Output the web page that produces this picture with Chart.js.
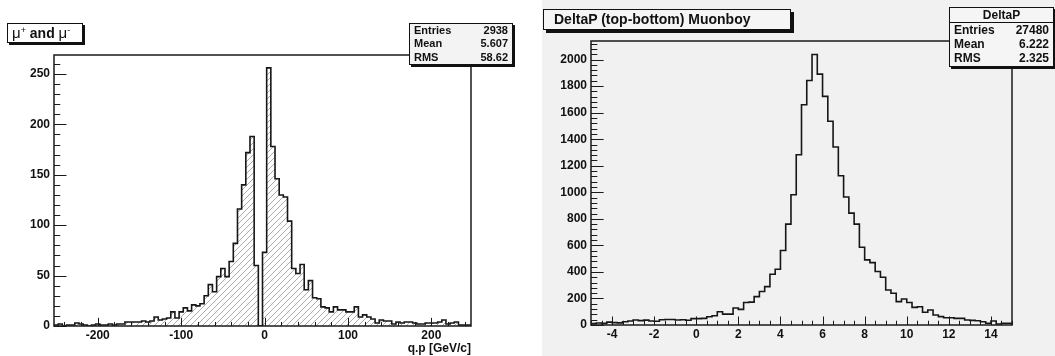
<!DOCTYPE html>
<html>
<head>
<meta charset="utf-8">
<script src="https://cdn.jsdelivr.net/npm/chart.js@4.4.1/dist/chart.umd.min.js"></script>
<style>
  html,body{margin:0;padding:0;background:#fff;}
  #wrap{position:relative;width:1055px;height:356px;overflow:hidden;font-family:'Liberation Sans',Arial,Helvetica,sans-serif;color:#111;}
  #rightBg{position:absolute;left:542px;top:0;width:513px;height:356px;background:#f1f1f1;}
  canvas{position:absolute;top:0;}
  #leftChart{left:0;}
  #rightChart{left:530px;}
  .title{position:absolute;border:1px solid #111;box-shadow:2px 2px 0 #111;font-weight:bold;white-space:nowrap;box-sizing:border-box;}
  .title .mu{font-weight:normal;font-size:15px;}
  .title sup{font-size:9px;font-weight:normal;vertical-align:5px;line-height:0;}
  .stats{position:absolute;border:1px solid #111;box-shadow:2px 2px 0 #111;font-weight:bold;box-sizing:border-box;}
  .stats .row{display:flex;justify-content:space-between;padding:0 4px;}
  .stats .head{text-align:center;border-bottom:1px solid #111;}
</style>
</head>
<body>
<div id="wrap">
  <div id="rightBg"></div>
  <canvas id="leftChart" width="530" height="356"></canvas>
  <canvas id="rightChart" width="525" height="356"></canvas>

  <div class="title" style="left:7px;top:23px;width:76px;height:20px;background:#fff;font-size:14px;line-height:18px;padding-left:4px;">
    <span class="mu">μ</span><sup>+</sup> and <span class="mu">μ</span><sup>-</sup>
  </div>
  <div class="stats" id="leftStats" style="left:409px;top:23px;width:104px;height:42px;background:#f3f3f3;font-size:11px;line-height:13.4px;"></div>

  <div class="title" style="left:543px;top:9px;width:248px;height:21px;background:#f5f5f5;font-size:14px;line-height:19px;padding-left:10px;box-shadow:3px 3px 0 #111;">DeltaP (top-bottom) Muonboy</div>
  <div class="stats" id="rightStats" style="left:949px;top:7px;width:105px;height:60px;background:#f5f5f5;font-size:12px;line-height:14px;"></div>
</div>

<script>
// ===== data =====
// left: q.p, 100 bins of 5 GeV/c from -252.5
const leftXMin = -252.5;
const leftBinW = 5;
const leftCounts = [
  0, 1, 2, 0, 1, 1, 3, 2, 1, 0,
  1, 2, 1, 1, 2, 1, 2, 2, 4, 4,
  4, 4, 5, 4, 5, 9, 6, 7, 8, 14,
  8, 14, 18, 15, 21, 20, 22, 30, 41, 34,
  49, 57, 49, 64, 82, 116, 140, 172, 188, 60,
  0, 73, 256, 178, 146, 130, 128, 104, 57, 52,
  61, 36, 45, 28, 27, 19, 18, 14, 19, 16,
  16, 14, 14, 19, 9, 11, 9, 7, 3, 6,
  5, 5, 2, 4, 3, 4, 4, 3, 2, 2,
  3, 3, 3, 4, 6, 2, 3, 4, 1, 1
];
const leftXTicks = [-200, -100, 0, 100, 200];
const leftYTicks = [0, 50, 100, 150, 200, 250];
const leftStats = [['Entries', '2938'], ['Mean', '5.607'], ['RMS', '58.62']];

// right: DeltaP, 80 bins of 0.25 from -5
const rightXMin = -5;
const rightBinW = 0.25;
const rightCounts = [
  12, 10, 15, 12, 22, 18, 16, 25, 30, 38,
  33, 37, 30, 28, 40, 42, 42, 38, 40, 36,
  48, 48, 50, 62, 70, 100, 82, 82, 128, 118,
  170, 172, 214, 252, 289, 382, 420, 561, 760, 981,
  1283, 1660, 1842, 2038, 1890, 1723, 1535, 1341, 1125, 964,
  843, 760, 586, 491, 470, 403, 360, 264, 239, 176,
  196, 169, 133, 138, 96, 113, 75, 63, 55, 55,
  50, 50, 38, 35, 32, 25, 13, 30, 8, 13
];
const rightXTicks = [-4, -2, 0, 2, 4, 6, 8, 10, 12, 14];
const rightYTicks = [0, 200, 400, 600, 800, 1000, 1200, 1400, 1600, 1800, 2000];
const rightStatsTitle = 'DeltaP';
const rightStats = [['Entries', '27480'], ['Mean', '6.222'], ['RMS', '2.325']];

Chart.defaults.font.family = "'Liberation Sans', Arial, Helvetica, sans-serif";

// ===== helpers =====
function histPoints(counts, xMin, binW){
  const xMax = xMin + counts.length * binW;
  const pts = [{x: xMin, y: 0}];
  counts.forEach((c, i) => pts.push({x: xMin + i * binW, y: c}));
  pts.push({x: xMax, y: counts[counts.length - 1]});
  pts.push({x: xMax, y: 0});
  return pts;
}

function hatch(){
  const c = document.createElement('canvas'); c.width = 6; c.height = 6;
  const g = c.getContext('2d');
  g.strokeStyle = '#a2a2a2'; g.lineWidth = 0.9;
  g.beginPath();
  g.moveTo(0, 6); g.lineTo(6, 0);
  g.moveTo(-1, 1); g.lineTo(1, -1);
  g.moveTo(5, 7); g.lineTo(7, 5);
  g.stroke();
  return g.createPattern(c, 'repeat');
}

function renderStats(el, rows, head){
  el.innerHTML = (head ? `<div class="head">${head}</div>` : '') +
    rows.map(r => `<div class="row"><span>${r[0]}</span><span>${r[1]}</span></div>`).join('');
}

// ROOT style: frame + inward ticks, minors at half length
const rootFrame = {
  id: 'rootFrame',
  afterDraw(chart, args, o){
    const {ctx, chartArea: a, scales: {x, y}} = chart;
    const yLen = (a.right - a.left) * 0.03, xLen = (a.bottom - a.top) * 0.03;
    const xMaj = x.ticks.map(t => t.value), yMaj = y.ticks.map(t => t.value);
    ctx.save();
    ctx.strokeStyle = '#1a1a1a';
    ctx.lineWidth = 1;
    ctx.beginPath();
    for(let k = 0; k * o.yMinor <= y.max; k++){
      const v = k * o.yMinor;
      const p = Math.round(y.getPixelForValue(v)) + 0.5;
      const len = yMaj.includes(v) ? yLen : yLen / 2;
      ctx.moveTo(a.left, p); ctx.lineTo(a.left + len, p);
    }
    for(let v = Math.ceil(x.min / o.xMinor) * o.xMinor; v <= x.max + 1e-9; v += o.xMinor){
      const p = Math.round(x.getPixelForValue(v)) + 0.5;
      const len = xMaj.some(m => Math.abs(m - v) < 1e-6) ? xLen : xLen / 2;
      ctx.moveTo(p, a.bottom); ctx.lineTo(p, a.bottom - len);
    }
    ctx.stroke();
    ctx.lineWidth = 1.5;
    ctx.strokeRect(a.left, a.top, a.right - a.left, a.bottom - a.top);
    ctx.restore();
  }
};

function makeHist(id, cfg){
  const xMax = cfg.xMin + cfg.counts.length * cfg.binW;
  const yMax = Math.max(...cfg.counts) * 1.05;
  const tickFont = {size: 12, weight: 'bold'};
  return new Chart(document.getElementById(id), {
    type: 'line',
    data: { datasets: [{
      data: histPoints(cfg.counts, cfg.xMin, cfg.binW),
      stepped: 'after',
      borderColor: '#161616', borderWidth: 1.6,
      backgroundColor: cfg.fill || 'rgba(0,0,0,0)',
      fill: cfg.fill ? 'origin' : false,
      pointRadius: 0, tension: 0
    }]},
    options: {
      responsive: false, animation: false, events: [],
      layout: { padding: { top: cfg.frame.top, right: cfg.frame.right, left: 0, bottom: 0 } },
      plugins: {
        legend: {display: false}, tooltip: {enabled: false}, title: {display: false},
        rootFrame: {xMinor: cfg.xMinor, yMinor: cfg.yMinor}
      },
      scales: {
        x: {
          type: 'linear', min: cfg.xMin, max: xMax,
          grid: {display: false, drawTicks: false}, border: {display: false},
          afterBuildTicks: s => { s.ticks = cfg.xTicks.map(v => ({value: v})); },
          afterFit: s => { s.height = cfg.frame.bottom; },
          ticks: { padding: 2, maxRotation: 0, autoSkip: false, color: '#111', font: tickFont, callback: v => String(v) },
          title: cfg.xTitle
            ? {display: true, text: cfg.xTitle, align: 'end', color: '#111', font: tickFont, padding: {top: 1, bottom: 0}}
            : {display: false}
        },
        y: {
          type: 'linear', min: 0, max: yMax,
          grid: {display: false, drawTicks: false}, border: {display: false},
          afterBuildTicks: s => { s.ticks = cfg.yTicks.map(v => ({value: v})); },
          afterFit: s => { s.width = cfg.frame.left; },
          ticks: { padding: 4, autoSkip: false, color: '#111', font: tickFont, callback: v => String(v) }
        }
      }
    },
    plugins: [rootFrame]
  });
}

// ===== draw =====
makeHist('leftChart', {
  counts: leftCounts, xMin: leftXMin, binW: leftBinW,
  xTicks: leftXTicks, yTicks: leftYTicks, xMinor: 20, yMinor: 10,
  xTitle: 'q.p [GeV/c]', fill: hatch(),
  frame: {left: 54, top: 55, right: 59, bottom: 30}
});
makeHist('rightChart', {
  counts: rightCounts, xMin: rightXMin, binW: rightBinW,
  xTicks: rightXTicks, yTicks: rightYTicks, xMinor: 0.5, yMinor: 40,
  frame: {left: 61, top: 41, right: 43, bottom: 31}
});

renderStats(document.getElementById('leftStats'), leftStats);
renderStats(document.getElementById('rightStats'), rightStats, rightStatsTitle);
</script>
</body>
</html>
